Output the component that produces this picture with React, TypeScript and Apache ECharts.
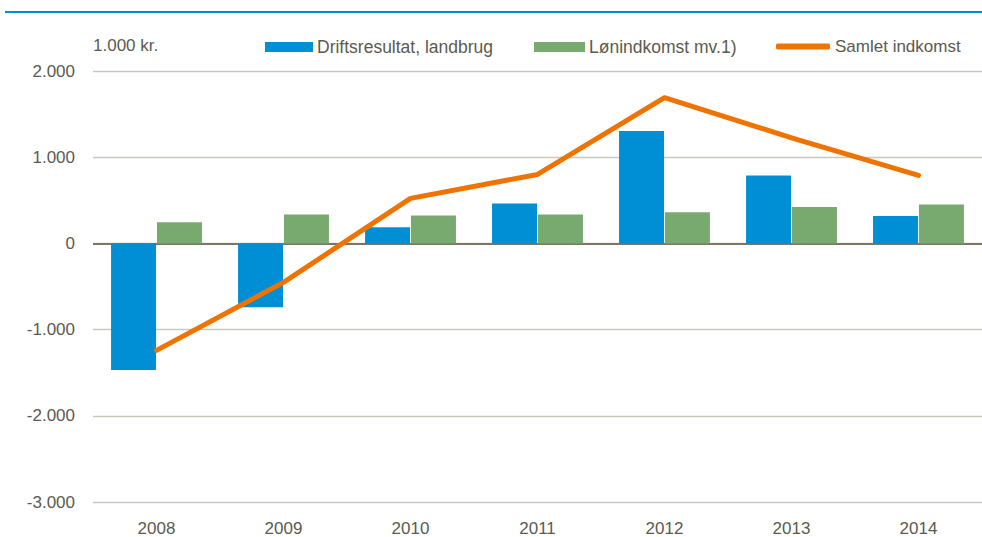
import React, { useEffect, useRef } from "react";
import * as echarts from "echarts";

const years = ["2008", "2009", "2010", "2011", "2012", "2013", "2014"];
const driftsresultat = [-1470, -742, 186, 464, 1304, 789, 317];
const loenindkomst = [245, 336, 325, 336, 360, 421, 452];
const samletIndkomst = [-1241, -452, 522, 800, 1690, 1225, 789];

const FONT = "'Liberation Sans Narrow', 'Arial Narrow', 'Liberation Sans', sans-serif";
const TEXT = "#5b5a4e";
const BLUE = "#008fd5";
const GREEN = "#78aa6f";
const ORANGE = "#ef7300";

function fmt(v: number): string {
  const s = Math.abs(v).toString().replace(/\B(?=(\d{3})+(?!\d))/g, ".");
  return (v < 0 ? "-" : "") + s;
}

export default function App() {
  const ref = useRef<HTMLDivElement>(null);
  useEffect(() => {
    if (!ref.current) return;
    const chart = echarts.init(ref.current, undefined, { renderer: "svg" });
    const legendBase = {
      top: 38,
      itemHeight: 10,
      itemGap: 4,
      padding: 0,
      textStyle: { color: TEXT, fontFamily: FONT, fontSize: 17.5, padding: [0, 0, 0, -1] },
    };
    chart.setOption({
      animation: false,
      backgroundColor: "#ffffff",
      grid: { left: 93, top: 71, width: 896, bottom: 35, containLabel: false },
      legend: [
        { ...legendBase, left: 265, itemWidth: 48, data: [{ name: "Driftsresultat, landbrug", icon: "rect" }] },
        { ...legendBase, left: 534, itemWidth: 51, data: [{ name: "Lønindkomst mv.1)", icon: "rect" }] },
        { ...legendBase, left: 776, itemWidth: 54, itemHeight: 6, top: 38, textStyle: { ...legendBase.textStyle, fontSize: 17, padding: [0, 0, 0, 0] }, data: [{ name: "Samlet indkomst", icon: "roundRect" }] },
      ],
      xAxis: {
        type: "category",
        data: years,
        axisLine: { show: false },
        axisTick: { show: false },
        axisLabel: { color: TEXT, fontFamily: FONT, fontSize: 17, margin: 18 },
      },
      yAxis: {
        type: "value",
        min: -3000,
        max: 2000,
        interval: 1000,
        axisLine: { show: false },
        axisTick: { show: false },
        splitLine: { lineStyle: { color: "#c9c8bd", width: 1.3 } },
        axisLabel: { color: TEXT, fontFamily: FONT, fontSize: 17, margin: 18, formatter: (v: number) => fmt(v) },
      },
      graphic: [
        { type: "line", shape: { x1: 5, y1: 12, x2: 982, y2: 12 }, style: { stroke: BLUE, lineWidth: 2 } },
        { type: "text", left: 93, top: 37, style: { text: "1.000 kr.", fill: TEXT, font: `17px ${FONT}` } },
      ],
      series: [
        {
          name: "Driftsresultat, landbrug",
          type: "bar",
          data: driftsresultat,
          barWidth: 45,
          barGap: "2%",
          itemStyle: { color: BLUE },
          markLine: {
            silent: true,
            symbol: "none",
            label: { show: false },
            lineStyle: { color: "#7b7766", width: 2, type: "solid" },
            data: [{ yAxis: 0 }],
            z: 1,
          },
        },
        {
          name: "Lønindkomst mv.1)",
          type: "bar",
          data: loenindkomst,
          barWidth: 45,
          barGap: "2%",
          itemStyle: { color: GREEN },
        },
        {
          name: "Samlet indkomst",
          type: "line",
          data: samletIndkomst,
          symbol: "none",
          z: 5,
          itemStyle: { color: ORANGE },
          lineStyle: { color: ORANGE, width: 5, cap: "round", join: "round" },
        },
      ],
    });
    return () => chart.dispose();
  }, []);
  return (
    <div
      ref={ref}
      style={{ position: "fixed", left: 0, top: 0, width: 982, height: 537 }}
    />
  );
}
